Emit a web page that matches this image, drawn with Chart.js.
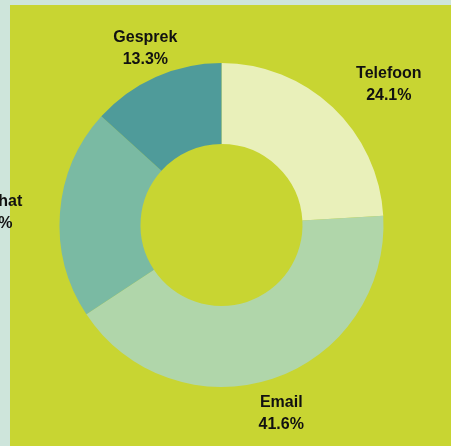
<!DOCTYPE html>
<html>
<head>
<meta charset="utf-8">
<script src="https://cdn.jsdelivr.net/npm/chart.js@4/dist/chart.umd.min.js"></script>
<style>
  html, body { margin: 0; padding: 0; background: #cee5db; }
  #wrap { width: 451px; height: 446px; position: relative; }
</style>
</head>
<body>
<div id="wrap"><canvas id="kanalen"></canvas></div>
<script>
// Data van de grafiek
const kanalen = ['Telefoon', 'Email', 'Livechat', 'Gesprek'];
const aandeel = [24.1, 41.6, 21.0, 13.3];
const kleuren = ['#e9f0ba', '#b0d6aa', '#7abaa3', '#4f9b9a'];

// kleine correctie van de labelpositie (px) t.o.v. de berekende plek
const labelVerschuiving = [[20, 15], [-3, 0], [-8, 4], [7, 11]];

// Achtergrond: mintgroene rand met geelgroen vlak
const achtergrond = {
    id: 'achtergrond',
    beforeDraw(chart) {
        const ctx = chart.ctx;
        ctx.save();
        ctx.fillStyle = '#cee5db';
        ctx.fillRect(0, 0, chart.width, chart.height);
        ctx.fillStyle = '#c8d532';
        ctx.fillRect(10, 5, chart.width - 10, chart.height - 5);
        ctx.restore();
    }
};

// Labels buiten de ring: naam + percentage
const buitenLabels = {
    id: 'buitenLabels',
    afterDraw(chart) {
        const ctx = chart.ctx;
        const meta = chart.getDatasetMeta(0);
        ctx.save();
        ctx.font = 'bold 16px "Liberation Sans", Arial, sans-serif';
        ctx.fillStyle = '#111';
        ctx.textAlign = 'center';
        ctx.textBaseline = 'middle';
        meta.data.forEach((arc, i) => {
            const p = arc.getProps(['x', 'y', 'startAngle', 'endAngle', 'outerRadius'], true);
            const mid = (p.startAngle + p.endAngle) / 2;
            const regel1 = kanalen[i];
            const regel2 = aandeel[i].toFixed(1) + '%';
            const w = Math.max(ctx.measureText(regel1).width, ctx.measureText(regel2).width);
            const dist = p.outerRadius + 30 + Math.abs(Math.cos(mid)) * w / 2;
            const x = p.x + Math.cos(mid) * dist + labelVerschuiving[i][0];
            const y = p.y + Math.sin(mid) * dist + labelVerschuiving[i][1];
            ctx.fillText(regel1, x, y - 11);
            ctx.fillText(regel2, x, y + 11);
        });
        ctx.restore();
    }
};

new Chart(document.getElementById('kanalen'), {
    type: 'doughnut',
    data: {
        labels: kanalen,
        datasets: [{
            data: aandeel,
            backgroundColor: kleuren,
            borderWidth: 0
        }]
    },
    options: {
        responsive: true,
        maintainAspectRatio: false,
        animation: false,
        cutout: '50%',
        layout: {
            padding: { left: 59.5, right: 67.5, top: 63, bottom: 59 }
        },
        plugins: {
            legend: { display: false },
            tooltip: { enabled: false }
        }
    },
    plugins: [achtergrond, buitenLabels]
});
</script>
</body>
</html>
